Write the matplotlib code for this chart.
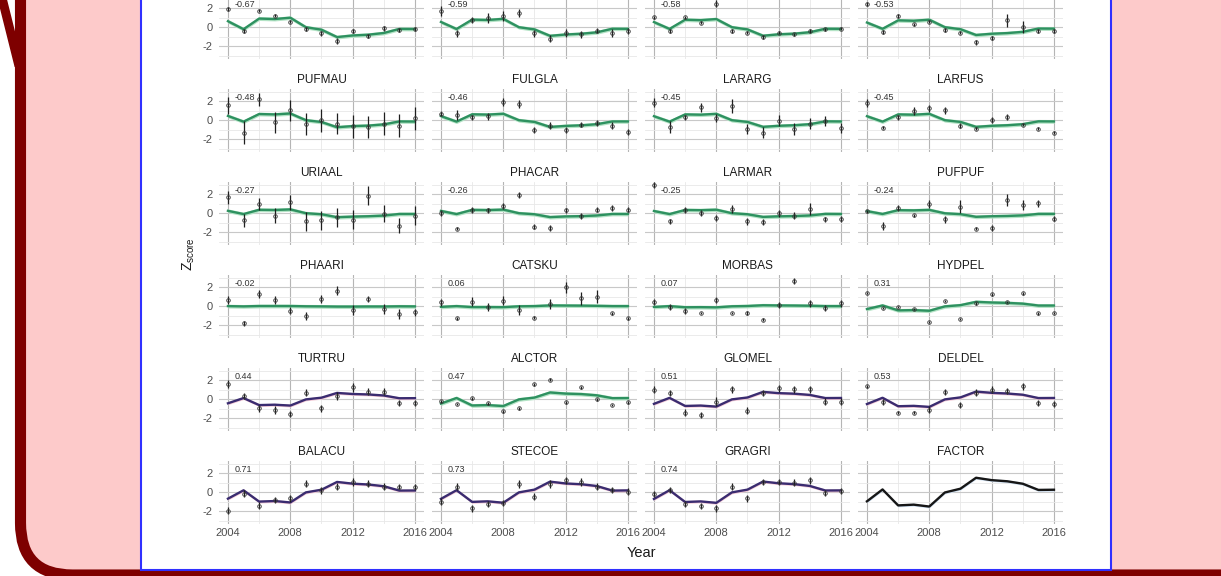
import matplotlib
matplotlib.use("Agg")
import matplotlib.pyplot as plt
from matplotlib.patches import FancyBboxPatch, Rectangle
import numpy as np

plt.rcParams['font.family'] = ['Liberation Sans', 'DejaVu Sans']

# ---- data ----
years = [2004, 2005, 2006, 2007, 2008, 2009, 2010, 2011, 2012, 2013, 2014, 2015, 2016]

# first row titles are cut off in the screenshot
names = [None, None, None, None,
         'PUFMAU', 'FULGLA', 'LARARG', 'LARFUS',
         'URIAAL', 'PHACAR', 'LARMAR', 'PUFPUF',
         'PHAARI', 'CATSKU', 'MORBAS', 'HYDPEL',
         'TURTRU', 'ALCTOR', 'GLOMEL', 'DELDEL',
         'BALACU', 'STECOE', 'GRAGRI', 'FACTOR']

loadings = [-0.67, -0.59, -0.58, -0.53,
            -0.48, -0.46, -0.45, -0.45,
            -0.27, -0.26, -0.25, -0.24,
            -0.02, 0.06, 0.07, 0.31,
            0.44, 0.47, 0.51, 0.53,
            0.71, 0.73, 0.74, None]

groups = ['g'] * 16 + ['p', 'g', 'p', 'p', 'p', 'p', 'p', 'f']

# fitted trend per panel
trend = [
    [0.64, -0.20, 0.92, 0.87, 1.01, 0.01, -0.25, -1.03, -0.86, -0.78, -0.60, -0.17, -0.18],
    [0.56, -0.18, 0.81, 0.77, 0.89, 0.01, -0.22, -0.90, -0.76, -0.68, -0.53, -0.15, -0.16],
    [0.55, -0.17, 0.80, 0.75, 0.87, 0.01, -0.22, -0.89, -0.74, -0.67, -0.52, -0.15, -0.16],
    [0.50, -0.16, 0.73, 0.69, 0.80, 0.01, -0.20, -0.81, -0.68, -0.61, -0.48, -0.13, -0.14],
    [0.46, -0.14, 0.66, 0.62, 0.72, 0.01, -0.18, -0.73, -0.61, -0.56, -0.43, -0.12, -0.13],
    [0.44, -0.14, 0.63, 0.60, 0.69, 0.01, -0.17, -0.70, -0.59, -0.53, -0.41, -0.12, -0.12],
    [0.43, -0.14, 0.62, 0.59, 0.68, 0.01, -0.17, -0.69, -0.58, -0.52, -0.41, -0.11, -0.12],
    [0.43, -0.14, 0.62, 0.59, 0.68, 0.01, -0.17, -0.69, -0.58, -0.52, -0.41, -0.11, -0.12],
    [0.26, -0.08, 0.37, 0.35, 0.41, 0.01, -0.10, -0.41, -0.35, -0.31, -0.24, -0.07, -0.07],
    [0.25, -0.08, 0.36, 0.34, 0.39, 0.01, -0.10, -0.40, -0.33, -0.30, -0.23, -0.07, -0.07],
    [0.24, -0.08, 0.35, 0.33, 0.38, 0.01, -0.10, -0.38, -0.32, -0.29, -0.23, -0.06, -0.07],
    [0.23, -0.07, 0.33, 0.31, 0.36, 0.00, -0.09, -0.37, -0.31, -0.28, -0.22, -0.06, -0.06],
    [0.02, -0.01, 0.03, 0.03, 0.03, 0.00, -0.01, -0.03, -0.03, -0.02, -0.02, 0.00, -0.01],
    [-0.06, 0.02, -0.08, -0.08, -0.09, 0.00, 0.02, 0.09, 0.08, 0.07, 0.05, 0.02, 0.02],
    [-0.07, 0.02, -0.10, -0.09, -0.11, 0.00, 0.03, 0.11, 0.09, 0.08, 0.06, 0.02, 0.02],
    [-0.29, 0.09, -0.43, -0.40, -0.47, -0.01, 0.12, 0.47, 0.40, 0.36, 0.28, 0.08, 0.08],
    [-0.42, 0.13, -0.61, -0.57, -0.66, -0.01, 0.17, 0.67, 0.56, 0.51, 0.40, 0.11, 0.12],
    [-0.45, 0.14, -0.65, -0.61, -0.71, -0.01, 0.18, 0.72, 0.60, 0.55, 0.42, 0.12, 0.13],
    [-0.48, 0.15, -0.70, -0.66, -0.77, -0.01, 0.19, 0.78, 0.65, 0.59, 0.46, 0.13, 0.14],
    [-0.50, 0.16, -0.73, -0.69, -0.80, -0.01, 0.20, 0.81, 0.68, 0.61, 0.48, 0.13, 0.14],
    [-0.67, 0.21, -0.98, -0.92, -1.07, -0.01, 0.27, 1.09, 0.91, 0.82, 0.64, 0.18, 0.19],
    [-0.69, 0.22, -1.01, -0.95, -1.10, -0.01, 0.28, 1.12, 0.93, 0.85, 0.66, 0.18, 0.20],
    [-0.70, 0.22, -1.02, -0.96, -1.11, -0.01, 0.28, 1.13, 0.95, 0.86, 0.67, 0.19, 0.20],
    [-0.95, 0.30, -1.38, -1.30, -1.50, -0.02, 0.38, 1.53, 1.28, 1.16, 0.90, 0.25, 0.27],
]

band = [0.2] * 16 + [0.15, 0.2, 0.15, 0.15, 0.15, 0.15, 0.15, 0.15]

# observed z-scores
obs = [
    [1.95, -0.35, 1.75, 1.2, 0.6, -0.2, -0.65, -1.45, -0.35, -0.9, -0.1, -0.3, -0.2],
    [1.7, -0.65, 0.8, 1.0, 1.2, 1.5, -0.65, -1.2, -0.6, -0.75, -0.35, -0.6, -0.4],
    [1.05, -0.4, 1.05, 0.5, 2.5, -0.4, -0.55, -1.05, -0.55, -0.75, -0.4, -0.2, -0.15],
    [2.45, -0.5, 1.2, 0.3, 0.6, -0.3, -0.55, -1.6, -1.15, 0.75, 0.05, -0.4, -0.4],
    [1.6, -1.3, 2.2, -0.2, 1.05, -0.4, 0.0, -0.35, -0.65, -0.7, -0.35, -0.55, 0.2],
    [0.7, 0.55, 0.3, 0.4, 1.95, 1.7, -1.0, -0.55, -1.0, -0.45, -0.3, -0.55, -1.2],
    [1.85, -0.7, 0.3, 1.35, 0.25, 1.5, -0.9, -1.3, -0.05, -0.9, -0.35, -0.05, -0.8],
    [1.85, -0.8, 0.3, 1.0, 1.25, 1.05, -0.55, -0.9, 0.05, 0.35, -0.45, -0.9, -1.3],
    [1.7, -0.75, 1.0, -0.25, 1.15, -0.85, -0.75, -0.4, -0.7, 1.85, -0.05, -1.3, -0.25],
    [0.05, -1.6, 0.35, 0.3, 0.8, 1.95, -1.4, -1.55, 0.3, -0.25, 0.4, 0.55, 0.4],
    [3.0, -0.85, 0.35, 0.05, -0.5, 0.45, -0.85, -0.9, 0.0, -0.25, 0.45, -0.65, -0.6],
    [0.2, -1.35, 0.55, -0.2, 1.0, -0.65, 0.7, -1.6, -1.55, 1.4, 0.9, 1.05, -0.55],
    [0.65, -1.8, 1.3, 0.65, -0.45, -1.0, 0.75, 1.65, -0.4, 0.75, -0.3, -0.8, -0.65],
    [0.4, -1.25, 0.5, -0.05, 0.6, -0.4, -1.2, 0.25, 2.0, 0.85, 1.0, -0.75, -1.25],
    [0.45, -0.05, -0.5, -0.7, 0.65, -0.7, -0.7, -1.4, 0.1, 2.65, 0.3, -0.15, 0.3],
    [1.4, -0.15, -0.05, -0.25, -1.65, 0.55, -1.3, 0.3, 1.25, 0.45, 1.35, -0.75, -0.7],
    [1.6, 0.35, -0.95, -1.1, -1.55, 0.7, -0.95, 0.35, 1.25, 0.8, 0.8, -0.4, -0.4],
    [-0.2, -0.5, 0.1, -0.4, -1.25, -0.95, 1.6, 2.05, -0.3, 1.25, 0.0, -0.6, -0.3],
    [1.0, 0.65, -1.4, -1.65, -0.25, 1.05, -1.2, 0.65, 1.15, 1.05, 1.05, -0.25, -0.25],
    [1.35, -0.25, -1.4, -1.4, -1.1, 0.75, -0.6, 0.7, 1.0, 0.9, 1.35, -0.4, -0.5],
    [-1.95, -0.15, -1.4, -0.8, -0.65, 0.9, 0.2, 0.6, 1.1, 0.9, 0.6, 0.6, 0.55],
    [-1.0, 0.6, -1.7, -1.25, -1.15, 0.9, -0.45, 0.9, 1.25, 1.1, 0.6, 0.25, 0.05],
    [-0.2, 0.25, -1.25, -1.45, -1.7, 0.6, -0.65, 1.1, 1.1, 1.0, 1.25, -0.05, 0.15],
    None,
]

# half-length of the error bars
err = [
    [0.2, 0.2, 0.15, 0.15, 0.2, 0.2, 0.25, 0.3, 0.2, 0.2, 0.25, 0.2, 0.2],
    [0.5, 0.4, 0.3, 0.5, 0.5, 0.4, 0.4, 0.4, 0.4, 0.4, 0.3, 0.4, 0.3],
    [0.15, 0.2, 0.15, 0.15, 0.4, 0.2, 0.2, 0.2, 0.2, 0.2, 0.2, 0.15, 0.15],
    [0.2, 0.2, 0.2, 0.15, 0.2, 0.2, 0.2, 0.25, 0.2, 0.7, 0.6, 0.2, 0.2],
    [0.9, 1.2, 0.7, 1.1, 1.1, 1.2, 1.2, 1.1, 1.2, 1.2, 1.2, 1.2, 1.2],
    [0.3, 0.5, 0.3, 0.4, 0.4, 0.4, 0.3, 0.35, 0.3, 0.3, 0.3, 0.35, 0.3],
    [0.5, 0.6, 0.3, 0.5, 0.4, 0.7, 0.5, 0.6, 0.6, 0.6, 0.6, 0.5, 0.5],
    [0.4, 0.15, 0.3, 0.4, 0.4, 0.4, 0.3, 0.15, 0.3, 0.3, 0.15, 0.15, 0.15],
    [0.7, 0.7, 0.6, 0.8, 0.8, 1.0, 1.0, 1.0, 1.0, 1.0, 0.9, 0.8, 1.0],
    [0.3, 0.15, 0.3, 0.3, 0.3, 0.3, 0.3, 0.3, 0.3, 0.3, 0.3, 0.35, 0.3],
    [0.3, 0.3, 0.3, 0.3, 0.35, 0.4, 0.35, 0.35, 0.35, 0.35, 0.6, 0.3, 0.3],
    [0.15, 0.4, 0.3, 0.15, 0.4, 0.4, 0.7, 0.15, 0.3, 0.6, 0.5, 0.4, 0.3],
    [0.4, 0.3, 0.4, 0.4, 0.4, 0.4, 0.4, 0.45, 0.5, 0.3, 0.5, 0.5, 0.4],
    [0.4, 0.15, 0.5, 0.4, 0.5, 0.5, 0.15, 0.5, 0.6, 0.7, 0.7, 0.15, 0.15],
    [0.35, 0.3, 0.3, 0.15, 0.35, 0.15, 0.2, 0.15, 0.3, 0.35, 0.35, 0.3, 0.35],
    [0.12, 0.12, 0.12, 0.12, 0.12, 0.12, 0.12, 0.12, 0.12, 0.12, 0.12, 0.12, 0.12],
    [0.4, 0.3, 0.35, 0.4, 0.35, 0.4, 0.35, 0.4, 0.45, 0.35, 0.35, 0.35, 0.35],
    [0.15, 0.15, 0.15, 0.15, 0.15, 0.15, 0.15, 0.15, 0.15, 0.15, 0.15, 0.15, 0.15],
    [0.35, 0.35, 0.4, 0.35, 0.45, 0.4, 0.4, 0.35, 0.4, 0.4, 0.4, 0.35, 0.35],
    [0.15, 0.3, 0.15, 0.15, 0.35, 0.35, 0.35, 0.35, 0.35, 0.3, 0.4, 0.35, 0.35],
    [0.35, 0.35, 0.35, 0.35, 0.35, 0.35, 0.35, 0.4, 0.4, 0.35, 0.35, 0.3, 0.35],
    [0.35, 0.35, 0.4, 0.35, 0.3, 0.4, 0.4, 0.4, 0.4, 0.4, 0.4, 0.35, 0.35],
    [0.3, 0.35, 0.3, 0.3, 0.35, 0.35, 0.4, 0.35, 0.35, 0.35, 0.35, 0.3, 0.35],
    None,
]

line_col = {'g': '#2E9160', 'p': '#3A2C70', 'f': '#161616'}
band_col = {'g': '#B3E3C5', 'p': '#F5CAD7', 'f': '#CFE0F2'}

W, H = 1221, 576
fig = plt.figure(figsize=(W / 100, H / 100), dpi=100)
fig.patch.set_facecolor('white')

# slide background: pink rounded box with dark red frame, white figure box
bg = fig.add_axes([0, 0, 1, 1])
bg.set_xlim(0, W)
bg.set_ylim(H, 0)
bg.axis('off')
bg.add_patch(FancyBboxPatch((20.5, -120), 1400, 695,
                            boxstyle='round,pad=0,rounding_size=52',
                            facecolor='#FDCACA', edgecolor='#7E0000', lw=8))
bg.plot([1, 19], [-6, 66], color='#7E0000', lw=6.5, solid_capstyle='butt')
bg.add_patch(Rectangle((141, -10), 970, 580, facecolor='white',
                       edgecolor='#3030FF', lw=1.5))

# panel grid in pixels
col_left = [218.6, 431.6, 644.6, 857.6]
row_zero = [27.3, 120.3, 213.3, 306.3, 399.3, 492.3]
pw, ph = 205.7, 62.7

for i in range(24):
    r, c = divmod(i, 4)
    top = row_zero[r] - ph / 2
    ax = fig.add_axes([col_left[c] / W, 1 - (top + ph) / H, pw / W, ph / H])
    ax.set_facecolor('none')
    ax.set_xlim(2003.4, 2016.6)
    ax.set_ylim(-3.3, 3.3)
    ax.set_xticks([2004, 2008, 2012, 2016])
    ax.set_xticks([2006, 2010, 2014], minor=True)
    ax.set_yticks([-2, 0, 2])
    ax.set_yticks([-3, -1, 1, 3], minor=True)
    ax.grid(which='major', axis='x', color='#b5b5b5', lw=0.8)
    ax.grid(which='major', axis='y', color='#c8c8c8', lw=0.8)
    ax.grid(which='minor', color='#e8e8e8', lw=0.6)
    ax.set_axisbelow(True)
    for s in ax.spines.values():
        s.set_visible(False)
    ax.tick_params(which='both', length=0, labelsize=8, labelcolor='#4d4d4d')
    ax.tick_params(axis='y', pad=4.5)
    ax.tick_params(axis='x', pad=3)
    if c != 0:
        ax.tick_params(axis='y', labelleft=False)
    if r != 5:
        ax.tick_params(axis='x', labelbottom=False)
    ax.set_yticklabels(['-2', '0', '2'])

    g = groups[i]
    t = np.array(trend[i])
    ax.fill_between(years, t - band[i], t + band[i], color=band_col[g], lw=0, zorder=2)
    ax.plot(years, t, color=line_col[g], lw=1.7, zorder=3)

    if obs[i] is not None:
        o = np.array(obs[i])
        e = np.array(err[i])
        ax.vlines(years, o - e, o + e, color='#1e1e1e', lw=0.9, zorder=4)
        ax.plot(years, o, 'o', mfc='none', mec='#3a3a3a', ms=2.6, mew=0.6, zorder=5)

    if loadings[i] is not None:
        ax.text(2004.4, 2.45, f'{loadings[i]:.2f}', fontsize=6.5, color='#333333',
                ha='left', va='center')
    if names[i]:
        ax.set_title(names[i], fontsize=8.5, color='#1a1a1a', pad=4)

fig.text(189 / W, 1 - 254 / H, r'Z$_{\mathregular{score}}$', rotation=90,
         fontsize=10, ha='center', va='center', color='#1a1a1a')
fig.text(641 / W, 1 - 553 / H, 'Year', fontsize=10.5, ha='center', va='center',
         color='#1a1a1a')

fig.savefig('out.png', dpi=100)
